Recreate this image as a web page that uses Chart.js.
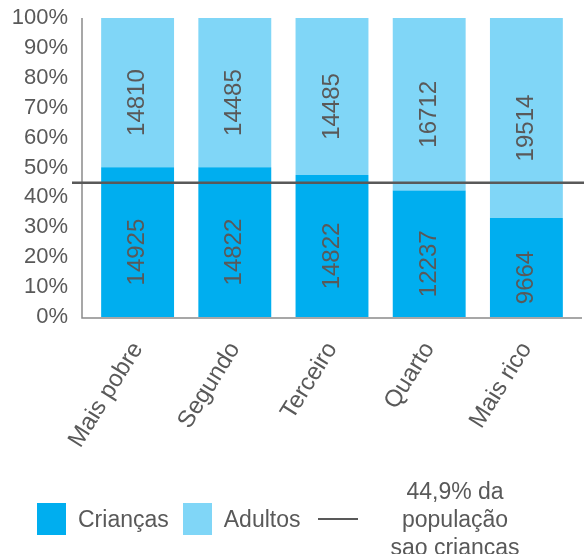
<!DOCTYPE html>
<html lang="pt">
<head>
   <meta charset="UTF-8">
   <title>Crianças e adultos por quintil</title>
   <script src="https://cdn.jsdelivr.net/npm/chart.js"></script>
   <style>
       body, html {
           margin: 0;
           padding: 0;
           background-color: #ffffff;
           font-family: 'Liberation Sans', Arial, sans-serif;
       }

       .wrap {
           position: relative;
           width: 584px;
           height: 554px;
           overflow: hidden;
       }

       .legend {
           position: absolute;
           left: 37px;
           top: 477px;
           display: flex;
           align-items: center;
           color: #595959;
           font-size: 23px;
       }

       .swatch {
           width: 29px;
           height: 32px;
           margin-right: 12px;
       }

       .legend-text {
           margin-right: 14px;
       }

       .legend-line {
           width: 40px;
           height: 2px;
           background-color: #595959;
           margin: 0 32px 0 4px;
       }

       .legend-multi {
           text-align: center;
           line-height: 28px;
       }
   </style>
</head>
<body>
   <div class="wrap">
       <canvas id="chart" width="584" height="554"></canvas>
       <div class="legend">
           <div class="swatch" style="background-color:#00AEEF"></div>
           <span class="legend-text">Crianças</span>
           <div class="swatch" style="background-color:#80D6F7"></div>
           <span class="legend-text">Adultos</span>
           <div class="legend-line"></div>
           <div class="legend-multi">44,9% da<br>população<br>sao criancas</div>
       </div>
   </div>

   <script>
    // categorias (quintis)
    const quintis = ['Mais pobre', 'Segundo', 'Terceiro', 'Quarto', 'Mais rico'];

    // alturas das barras (%)
    const pctCriancas = [50.1, 50.1, 47.5, 42.3, 33.1];
    const pctAdultos = [49.9, 49.9, 52.5, 57.7, 66.9];

    // números escritos dentro das barras
    const nCriancas = [14925, 14822, 14822, 12237, 9664];
    const nAdultos = [14810, 14485, 14485, 16712, 19514];

    const linhaCriancas = 44.9;
    const yTicks = [0, 10, 20, 30, 40, 50, 60, 70, 80, 90, 100];

    const grey = '#595959';
    const font = "'Liberation Sans', Arial, sans-serif";

    // eixos desenhados a mao + linha dos 44,9%
    const extras = {
        id: 'extras',
        afterDatasetsDraw(chart) {
            const { ctx, chartArea, scales } = chart;
            const axisX = chartArea.left - 7;
            ctx.save();
            ctx.strokeStyle = '#8a8a8a';
            ctx.lineWidth = 1.5;
            ctx.beginPath();
            ctx.moveTo(axisX, chartArea.top);
            ctx.lineTo(axisX, chartArea.bottom + 1);
            ctx.lineTo(chart.width - 2, chartArea.bottom + 1);
            ctx.stroke();

            const y = scales.y.getPixelForValue(linhaCriancas);
            ctx.strokeStyle = grey;
            ctx.lineWidth = 2.5;
            ctx.beginPath();
            ctx.moveTo(axisX - 10, y);
            ctx.lineTo(chart.width, y);
            ctx.stroke();

            // rotulos dos valores
            const labels = [nCriancas, nAdultos];
            ctx.fillStyle = grey;
            ctx.font = '24px ' + font;
            ctx.textAlign = 'center';
            ctx.textBaseline = 'middle';
            chart.data.datasets.forEach((ds, i) => {
                chart.getDatasetMeta(i).data.forEach((bar, j) => {
                    const cy = (bar.y + bar.base) / 2 + 10;
                    ctx.save();
                    ctx.translate(bar.x, cy);
                    ctx.rotate(-Math.PI / 2);
                    ctx.fillText(String(labels[i][j]), 0, 0);
                    ctx.restore();
                });
            });
            ctx.restore();
        }
    };

    const ctx = document.getElementById('chart').getContext('2d');

    new Chart(ctx, {
        type: 'bar',
        data: {
            labels: quintis,
            datasets: [
                {
                    label: 'Crianças',
                    data: pctCriancas,
                    backgroundColor: '#00AEEF',
                    barPercentage: 0.75,
                    categoryPercentage: 1
                },
                {
                    label: 'Adultos',
                    data: pctAdultos,
                    backgroundColor: '#80D6F7',
                    barPercentage: 0.75,
                    categoryPercentage: 1
                }
            ]
        },
        options: {
            responsive: false,
            animation: false,
            layout: { padding: { top: 18, right: 9, left: 0, bottom: 0 } },
            plugins: {
                legend: { display: false },
                tooltip: { enabled: false }
            },
            scales: {
                x: {
                    stacked: true,
                    grid: { display: false, drawTicks: false },
                    border: { display: false },
                    ticks: {
                        color: grey,
                        font: { size: 24, family: font },
                        minRotation: 58,
                        maxRotation: 58,
                        autoSkip: false,
                        padding: 20
                    },
                    afterFit(scale) {
                        scale.height = 237;
                        scale.paddingLeft = 0;
                        scale.paddingRight = 0;
                    }
                },
                y: {
                    stacked: true,
                    min: 0,
                    max: 100,
                    grid: { display: false, drawTicks: false },
                    border: { display: false },
                    afterBuildTicks(scale) {
                        scale.ticks = yTicks.map(v => ({ value: v }));
                    },
                    ticks: {
                        color: grey,
                        font: { size: 22, family: font },
                        padding: 21,
                        autoSkip: false,
                        callback: v => v + '%'
                    },
                    afterFit(scale) {
                        scale.width = 89;
                        scale.paddingTop = 0;
                        scale.paddingBottom = 0;
                    }
                }
            }
        },
        plugins: [extras]
    });
   </script>
</body>
</html>
